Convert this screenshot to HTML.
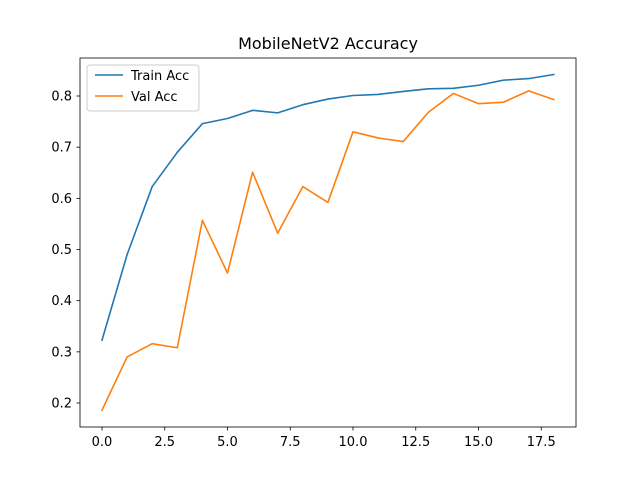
<!DOCTYPE html>
<html><head><meta charset="utf-8"><style>
body{margin:0;background:#fff;}
svg text{font-family:"DejaVu Sans","Liberation Sans",sans-serif;}
</style></head><body>
<svg id="chart" width="640" height="480" xmlns="http://www.w3.org/2000/svg">
<rect width="640" height="480" fill="#fff"/>
<text x="328" y="49" text-anchor="middle" font-size="16">MobileNetV2 Accuracy</text>
<g id="ticks"></g>
<g id="lines"></g>
<rect x="80" y="58" width="496" height="369" fill="none" stroke="#000" stroke-width="0.8"/>
<g>
<rect x="87" y="65" width="112" height="46" rx="3" fill="#fff" fill-opacity="0.8" stroke="#ccc"/>
<line x1="95" y1="75" x2="123" y2="75" stroke="#1f77b4" stroke-width="1.5"/>
<text x="131" y="80" font-size="13">Train Acc</text>
<line x1="95" y1="96" x2="123" y2="96" stroke="#ff7f0e" stroke-width="1.5"/>
<text x="131" y="101" font-size="13">Val Acc</text>
</g>
</svg>
<script>
const epochs=[0,1,2,3,4,5,6,7,8,9,10,11,12,13,14,15,16,17,18];
const trainAcc=[0.323,0.49,0.623,0.69,0.746,0.756,0.772,0.767,0.783,0.794,0.801,0.803,0.809,0.814,0.815,0.821,0.831,0.834,0.842];
const valAcc=[0.186,0.290,0.316,0.308,0.557,0.454,0.651,0.532,0.623,0.592,0.730,0.718,0.711,0.768,0.805,0.785,0.788,0.810,0.793];
const xTicks=[0,2.5,5,7.5,10,12.5,15,17.5];
const xTickLabels=["0.0","2.5","5.0","7.5","10.0","12.5","15.0","17.5"];
const yTicks=[0.2,0.3,0.4,0.5,0.6,0.7,0.8];
const yTickLabels=["0.2","0.3","0.4","0.5","0.6","0.7","0.8"];
const NS="http://www.w3.org/2000/svg";
const xs=v=>102+v*25.1;
const ys=v=>96+(0.8-v)*511.7;
const tg=document.getElementById('ticks');
function mk(tag,attrs,parent){const e=document.createElementNS(NS,tag);for(const k in attrs)e.setAttribute(k,attrs[k]);parent.appendChild(e);return e;}
xTicks.forEach((t,i)=>{
 const l=mk('line',{x1:xs(t),x2:xs(t),y1:427,y2:430.5,stroke:'#000','stroke-width':0.8},tg);
 
 
 const tx=mk('text',{x:xs(t),y:446,'text-anchor':'middle','font-size':13},tg);
 tx.textContent=xTickLabels[i];
 
 
});
yTicks.forEach((t,i)=>{
 const l=mk('line',{x1:76.5,x2:80,y1:ys(t),y2:ys(t),stroke:'#000','stroke-width':0.8},tg);
 
 
 const tx=mk('text',{x:72,y:ys(t)+4.5,'text-anchor':'end','font-size':13},tg);
 tx.textContent=yTickLabels[i];
 
 
});
const lg=document.getElementById('lines');
function series(vals,color,name){
 const p=mk('polyline',{points:vals.map((v,i)=>xs(epochs[i])+','+ys(v)).join(' '),fill:'none',stroke:color,'stroke-width':1.6,'stroke-linejoin':'round','stroke-linecap':'square'},lg);
 
 
}
series(trainAcc,'#1f77b4','train-acc-line');
series(valAcc,'#ff7f0e','val-acc-line');
</script>
</body></html>
